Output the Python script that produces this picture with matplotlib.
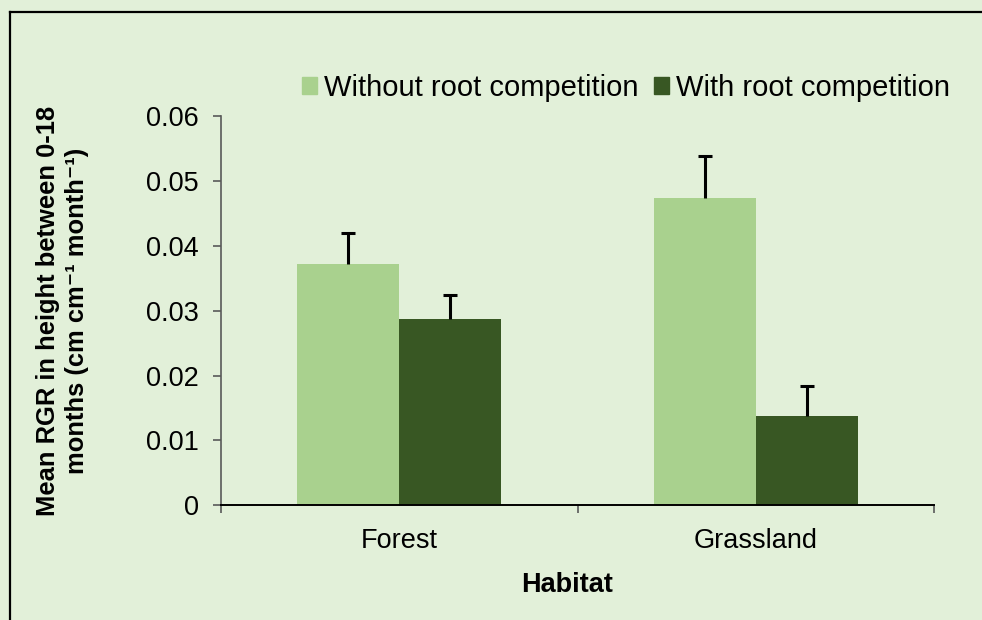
import matplotlib
matplotlib.use("Agg")
import matplotlib.pyplot as plt
from matplotlib.patches import Rectangle
from matplotlib.lines import Line2D
import numpy as np

plt.rcParams['font.family'] = ['Liberation Sans', 'DejaVu Sans']

# Data
habitats = ["Forest", "Grassland"]
series_names = ["Without root competition", "With root competition"]
without_comp = [0.0372, 0.0473]
with_comp = [0.0287, 0.0138]
without_err = [0.0048, 0.0066]
with_err = [0.0037, 0.0046]
yticks = [0, 0.01, 0.02, 0.03, 0.04, 0.05, 0.06]
ytick_labels = ["0", "0.01", "0.02", "0.03", "0.04", "0.05", "0.06"]

BG = "#E2F0D9"
LIGHT = "#A9D18E"
DARK = "#385723"
FS = 19.5
LEG_FS = 21

W, H = 982, 620
fig = plt.figure(figsize=(W / 100, H / 100), dpi=100, facecolor=BG)
ax = fig.add_axes([221 / W, 1 - 505.3 / H, (934 - 221) / W, (505.3 - 116) / H])
ax.set_facecolor(BG)

x = np.arange(len(habitats))
bw = 0.286
ax.bar(x - bw / 2, without_comp, bw, color=LIGHT, label=series_names[0], zorder=2)
ax.bar(x + bw / 2, with_comp, bw, color=DARK, label=series_names[1], zorder=2)
for xs, vals, errs in ((x - bw / 2, without_comp, without_err),
                       (x + bw / 2, with_comp, with_err)):
    _, caps, _ = ax.errorbar(xs, vals, yerr=[np.zeros(len(vals)), errs], fmt="none",
                             ecolor="black", elinewidth=2.2, capsize=4.8,
                             capthick=2.2, zorder=3)
    # upper-only error bars: hide the cap sitting on the bar top
    caps[0].set_visible(False)

ax.set_xlim(-0.5, 1.5)
ax.set_ylim(0, 0.06)
ax.set_yticks(yticks)
ax.set_yticklabels(ytick_labels, fontsize=FS)
ax.tick_params(axis="y", length=6, width=1.2, color="#595959", pad=10)

ax.set_xticks([-0.5, 0.5, 1.5])
ax.set_xticklabels([])
ax.tick_params(axis="x", which="major", length=6, width=1.2, color="#595959", direction="out")
ax.set_xticks(x, minor=True)
ax.set_xticklabels(habitats, minor=True, fontsize=FS)
ax.tick_params(axis="x", which="minor", length=0, pad=16)

for s in ("top", "right"):
    ax.spines[s].set_visible(False)
ax.spines["left"].set_color("#595959")
ax.spines["left"].set_linewidth(1.2)
ax.spines["bottom"].set_color("black")
ax.spines["bottom"].set_linewidth(1.4)

fig.text(567.5 / W, 1 - 585 / H, "Habitat", fontsize=FS, fontweight="bold",
         ha="center", va="center")
fig.text(62.5 / W, 1 - 311 / H,
         "Mean RGR in height between 0-18\nmonths (cm cm\u207b\u00b9 month\u207b\u00b9)",
         fontsize=18.4, fontweight="bold", rotation=90, ha="center", va="center",
         multialignment="center", linespacing=1.3)

handles = [Rectangle((0, 0), 1, 1, color=LIGHT), Rectangle((0, 0), 1, 1, color=DARK)]
fig.legend(handles, series_names, loc="center left",
           bbox_to_anchor=(301.7 / W, 1 - 88 / H), bbox_transform=fig.transFigure,
           ncol=2, frameon=False, fontsize=LEG_FS, borderpad=0, borderaxespad=0,
           handlelength=0.51, handleheight=0.51, handletextpad=0.24,
           columnspacing=0.55)

# Outer frame lines (top and left)
fig.add_artist(Line2D([10 / W, 10 / W], [0, 1 - 12 / H], transform=fig.transFigure,
                      color="black", lw=1.6))
fig.add_artist(Line2D([10 / W, 1], [1 - 12 / H, 1 - 12 / H], transform=fig.transFigure,
                      color="black", lw=1.6))

fig.savefig("out.png", dpi=100, facecolor=BG)
